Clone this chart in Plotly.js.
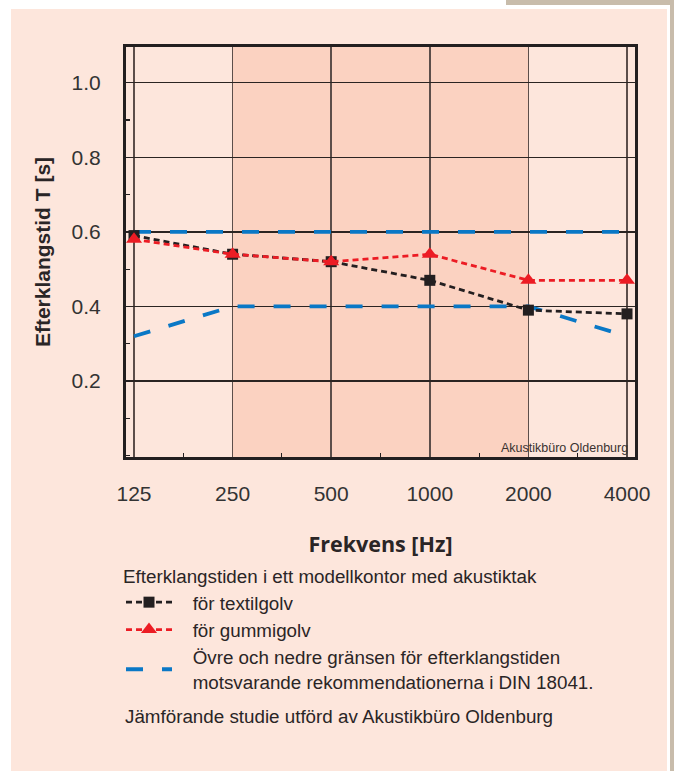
<!DOCTYPE html>
<html><head><meta charset="utf-8">
<script src="https://cdn.plot.ly/plotly-3.0.1.min.js"></script>
<style>html,body{margin:0;padding:0;background:#fff}#chart{width:674px;height:771px}</style>
</head><body><div id="chart"></div>
<script>
// ---- data ----
const frequencies = [125, 250, 500, 1000, 2000, 4000];
const tickLabels = ['125', '250', '500', '1000', '2000', '4000'];
const textilgolv = [0.59, 0.54, 0.52, 0.47, 0.39, 0.38];
const gummigolv = [0.58, 0.54, 0.52, 0.54, 0.47, 0.47];
const upperLimit = [0.60, 0.60, 0.60, 0.60, 0.60, 0.60];
const lowerLimit = [0.32, 0.40, 0.40, 0.40, 0.40, 0.32];
const yTickValues = [0.2, 0.4, 0.6, 0.8, 1.0];
const yTickLabels = ['0.2', '0.4', '0.6', '0.8', '1.0'];
const shadedBand = [250, 2000];
const IND = '\u00a0\u00a0\u00a0';
const names = {
  textil: IND + 'för textilgolv',
  gummi: IND + 'för gummigolv',
  limits: IND + 'Övre och nedre gränsen för efterklangstiden<br>' + IND + 'motsvarande rekommendationerna i DIN 18041.'
};
const legendHeader = 'Efterklangstiden i ett modellkontor med akustiktak';
const footer = 'Jämförande studie utförd av Akustikbüro Oldenburg';
const credit = 'Akustikbüro Oldenburg';

// ---- geometry helpers (pixel -> paper) ----
const W = 674, H = 771, L = 126, R = 635, T = 47, B = 457;
const px = x => (x - L) / (R - L);
const py = y => (B - y) / (B - T);

const PINK = '#fde6dc', SHADE = '#fbd2c1', BLUE = '#0a78c6', RED = '#ec1c24', BLACK = '#231f20';
const TXT = '#2a2526';
const FONT = 'Liberation Sans, Arial, sans-serif';

const halfOctaves = frequencies.slice(0, -1).map(f => f * Math.SQRT2);

const traces = [
  { x: frequencies, y: upperLimit, type: 'scatter', mode: 'lines', name: names.limits,
    legendrank: 3, legendgroup: 'lim', showlegend: true,
    line: { color: BLUE, width: 3.8, dash: '17px,19px' }, hoverinfo: 'skip' },
  { x: frequencies, y: lowerLimit, type: 'scatter', mode: 'lines', name: names.limits,
    legendrank: 3, legendgroup: 'lim', showlegend: false,
    line: { color: BLUE, width: 3.8, dash: '17px,19px' }, hoverinfo: 'skip' },
  { x: frequencies, y: textilgolv, type: 'scatter', mode: 'lines+markers', name: names.textil,
    legendrank: 1,
    line: { color: BLACK, width: 2.8, dash: '6px,4px' },
    marker: { symbol: 'square', size: 11, color: BLACK } },
  { x: frequencies, y: gummigolv, type: 'scatter', mode: 'lines+markers', name: names.gummi,
    legendrank: 2,
    line: { color: RED, width: 2.8, dash: '6px,4px' },
    marker: { symbol: 'triangle-up', size: 14, color: RED } }
];

const layout = {
  width: W, height: H,
  margin: { l: L, r: W - R, t: T, b: H - B, pad: 0 },
  paper_bgcolor: '#ffffff',
  plot_bgcolor: PINK,
  showlegend: true,
  xaxis: {
    type: 'log',
    range: [Math.log10(125) - 0.0244, Math.log10(4000) + 0.0244],
    tickmode: 'array', tickvals: frequencies, ticktext: tickLabels,
    ticks: 'inside', ticklen: 0, ticklabelstandoff: 16,
    tickfont: { family: FONT, size: 21, color: '#333' },
    showgrid: true, gridcolor: '#5c4e4a', gridwidth: 1.6,
    showline: true, linecolor: BLACK, linewidth: 3, mirror: true,
    zeroline: false,
    minor: { tickmode: 'array', tickvals: halfOctaves, ticks: 'inside', ticklen: 4, tickwidth: 1.2, tickcolor: BLACK, showgrid: false },
    title: { text: 'Frekvens [Hz]', font: { family: 'Open Sans, sans-serif', size: 21.5, color: TXT, weight: 'bold' }, standoff: 33 },
    fixedrange: true
  },
  yaxis: {
    range: [-0.004, 1.096],
    tickmode: 'array', tickvals: yTickValues, ticktext: yTickLabels,
    ticks: 'inside', ticklen: 4, tickwidth: 1.2, tickcolor: BLACK, ticklabelstandoff: 18,
    tickfont: { family: FONT, size: 21, color: '#333' },
    showgrid: true, gridcolor: '#2b2422', gridwidth: 1.3,
    showline: true, linecolor: BLACK, linewidth: 3, mirror: true,
    zeroline: false,
    minor: { dtick: 0.1, tick0: 0, ticks: 'inside', ticklen: 4, tickwidth: 1.2, tickcolor: BLACK, showgrid: false },
    title: { text: 'Efterklangstid T [s]', font: { family: FONT, size: 21, color: TXT, weight: 'bold' }, standoff: 16 },
    fixedrange: true
  },
  legend: {
    x: px(121), xanchor: 'left', y: py(559), yanchor: 'top',
    bgcolor: 'rgba(0,0,0,0)', borderwidth: 0,
    font: { family: FONT, size: 18.8, color: TXT },
    title: { text: legendHeader, font: { family: FONT, size: 18.8, color: TXT } },
    itemwidth: 46, traceorder: 'normal', itemclick: false, itemdoubleclick: false
  },
  shapes: [
    // page panel
    { type: 'rect', xref: 'paper', yref: 'paper', layer: 'below',
      x0: px(11), x1: px(667), y0: py(771), y1: py(9), fillcolor: PINK, line: { width: 0 } },
    { type: 'rect', xref: 'paper', yref: 'paper', layer: 'below',
      x0: px(506), x1: px(674), y0: py(5), y1: py(0), fillcolor: '#c8bcab', line: { width: 0 } },
    { type: 'rect', xref: 'paper', yref: 'paper', layer: 'below',
      x0: px(670), x1: px(674), y0: py(771), y1: py(0), fillcolor: '#c8bcab', line: { width: 0 } },
    // recommended-band shading
    { type: 'rect', xref: 'x', yref: 'paper', layer: 'below',
      x0: shadedBand[0], x1: shadedBand[1], y0: 0, y1: 1, fillcolor: SHADE, line: { width: 0 } }
  ],
  annotations: [
    { text: credit, xref: 'paper', yref: 'paper', x: px(630), y: py(448), xanchor: 'right', yanchor: 'middle',
      showarrow: false, font: { family: FONT, size: 12.5, color: '#3a3230' } },
    { text: footer, xref: 'paper', yref: 'paper', x: px(123), y: py(716), xanchor: 'left', yanchor: 'middle',
      showarrow: false, font: { family: FONT, size: 18.8, color: TXT } }
  ]
};

Plotly.newPlot('chart', traces, layout, { displayModeBar: false, staticPlot: true });
</script>
</body></html>
